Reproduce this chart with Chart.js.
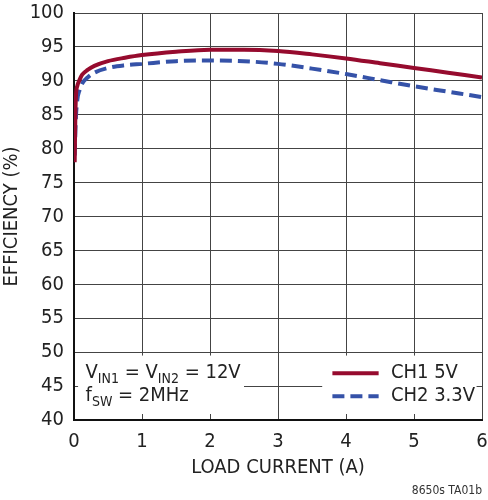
<!DOCTYPE html>
<html>
<head>
<meta charset="utf-8">
<script src="https://cdn.jsdelivr.net/npm/chart.js@4"></script>
<style>
    html, body { margin: 0; padding: 0; background: #fff; }
    #wrap { width: 488px; height: 500px; }
</style>
</head>
<body>
<div id="wrap"><canvas id="grafico" width="488" height="500"></canvas></div>
<script>
/*global Chart*/
var currentA = [0.01, 0.02, 0.03, 0.05, 0.08, 0.12, 0.2, 0.3, 0.5, 0.75, 1, 1.5, 2, 2.5, 3, 3.5, 4, 4.5, 5, 5.5, 6];
var ch1Eff = [78, 85, 88, 89.3, 90.1, 90.9, 91.6, 92.2, 92.9, 93.4, 93.8, 94.3, 94.6, 94.6, 94.4, 93.9, 93.3, 92.6, 91.9, 91.2, 90.5];
var ch2Eff = [79, 82.5, 85, 87.3, 88.6, 89.6, 90.5, 91.2, 91.9, 92.3, 92.5, 92.9, 93.0, 92.9, 92.5, 91.8, 91.0, 90.1, 89.2, 88.4, 87.6];
var xTicks = [0, 1, 2, 3, 4, 5, 6];
var yTicks = [40, 45, 50, 55, 60, 65, 70, 75, 80, 85, 90, 95, 100];
var seriesNames = ["CH1 5V", "CH2 3.3V"];

var FONT = "'DejaVu Sans Condensed', 'Liberation Sans', sans-serif";
var RED = "#960b2e";
var BLUE = "#3552a8";

function toPoints(xs, ys) {
    "use strict";
    return xs.map(function (x, i) {
        return {x: x, y: ys[i]};
    });
}

// white boxes with the conditions text and the legend, drawn over the grid
var notas = {
    id: "notas",
    beforeDatasetsDraw: function (chart) {
        "use strict";
        var ctx = chart.ctx;
        var sx = chart.scales.x;
        var sy = chart.scales.y;
        var top = sy.getPixelForValue(49.5);
        var bottom = chart.chartArea.bottom - 6;
        ctx.save();
        ctx.fillStyle = "#fff";
        ctx.fillRect(sx.getPixelForValue(0.06), top, sx.getPixelForValue(2.5) - sx.getPixelForValue(0.06), bottom - top);
        ctx.fillRect(sx.getPixelForValue(3.65), top, sx.getPixelForValue(5.92) - sx.getPixelForValue(3.65), bottom - top);
        ctx.restore();
    },
    afterDraw: function (chart) {
        "use strict";
        var ctx = chart.ctx;
        var sx = chart.scales.x;
        var sy = chart.scales.y;
        var y1 = sy.getPixelForValue(46.9);
        var y2 = sy.getPixelForValue(43.5);
        var x;
        var y;
        var big = "20px " + FONT;
        var small = "14px " + FONT;

        function put(txt, f, dy) {
            ctx.font = f;
            ctx.fillText(txt, x, y + dy);
            x += ctx.measureText(txt).width;
        }

        ctx.save();
        ctx.fillStyle = "#222";
        ctx.textBaseline = "middle";
        ctx.textAlign = "left";

        x = sx.getPixelForValue(0.17);
        y = y1;
        put("V", big, 0);
        put("IN1", small, 6);
        put(" = V", big, 0);
        put("IN2", small, 6);
        put(" = 12V", big, 0);
        x = sx.getPixelForValue(0.17);
        y = y2;
        put("f", big, 0);
        put("SW", small, 6);
        put(" = 2MHz", big, 0);

        // legend
        var lx0 = sx.getPixelForValue(3.8);
        var lx1 = sx.getPixelForValue(4.48);
        var tx = sx.getPixelForValue(4.66);
        ctx.lineWidth = 4;
        ctx.strokeStyle = chart.data.datasets[0].borderColor;
        ctx.beginPath();
        ctx.moveTo(lx0, y1);
        ctx.lineTo(lx1, y1);
        ctx.stroke();
        ctx.strokeStyle = chart.data.datasets[1].borderColor;
        ctx.setLineDash(chart.data.datasets[1].borderDash);
        ctx.beginPath();
        ctx.moveTo(lx0, y2);
        ctx.lineTo(lx1, y2);
        ctx.stroke();
        ctx.setLineDash([]);
        ctx.font = big;
        ctx.fillText(chart.data.datasets[0].label, tx, y1);
        ctx.fillText(chart.data.datasets[1].label, tx, y2);

        // figure code
        ctx.font = "12px " + FONT;
        ctx.fillStyle = "#333";
        ctx.textAlign = "right";
        ctx.fillText("8650s TA01b", chart.chartArea.right, 491);
        ctx.restore();
    }
};

new Chart(document.getElementById("grafico"), {
    type: "line",
    data: {
        datasets: [{
            label: seriesNames[0],
            data: toPoints(currentA, ch1Eff),
            borderColor: RED,
            borderWidth: 4,
            pointRadius: 0,
            cubicInterpolationMode: "monotone",
            order: 1
        }, {
            label: seriesNames[1],
            data: toPoints(currentA, ch2Eff),
            borderColor: BLUE,
            borderWidth: 4,
            borderDash: [12, 6],
            pointRadius: 0,
            cubicInterpolationMode: "monotone",
            order: 2
        }]
    },
    options: {
        responsive: false,
        animation: false,
        layout: {
            padding: {top: 13, right: 6, left: 0, bottom: 0}
        },
        plugins: {
            legend: {display: false},
            tooltip: {enabled: false}
        },
        scales: {
            x: {
                type: "linear",
                min: 0,
                max: 6,
                afterBuildTicks: function (axis) {
                    axis.ticks = xTicks.map(function (v) { return {value: v}; });
                },
                afterFit: function (axis) {
                    axis.height = 80;
                    axis.paddingLeft = 0;
                    axis.paddingRight = 0;
                },
                grid: {color: "#444", lineWidth: 1, drawTicks: false},
                border: {color: "#111", width: 2},
                ticks: {
                    color: "#222",
                    padding: 10,
                    maxRotation: 0,
                    font: {family: FONT, size: 20}
                },
                title: {
                    display: true,
                    text: "LOAD CURRENT (A)",
                    color: "#222",
                    padding: {top: 0, bottom: 20},
                    font: {family: FONT, size: 20}
                }
            },
            y: {
                min: 40,
                max: 100,
                afterBuildTicks: function (axis) {
                    axis.ticks = yTicks.map(function (v) { return {value: v}; });
                },
                afterFit: function (axis) {
                    axis.width = 74;
                    axis.paddingTop = 0;
                    axis.paddingBottom = 0;
                },
                grid: {color: "#444", lineWidth: 1, drawTicks: false},
                border: {color: "#111", width: 2},
                ticks: {
                    color: "#222",
                    padding: 10,
                    font: {family: FONT, size: 20}
                },
                title: {
                    display: true,
                    text: "EFFICIENCY (%)",
                    color: "#222",
                    padding: 0,
                    font: {family: FONT, size: 20}
                }
            }
        }
    },
    plugins: [notas]
});
</script>
</body>
</html>
